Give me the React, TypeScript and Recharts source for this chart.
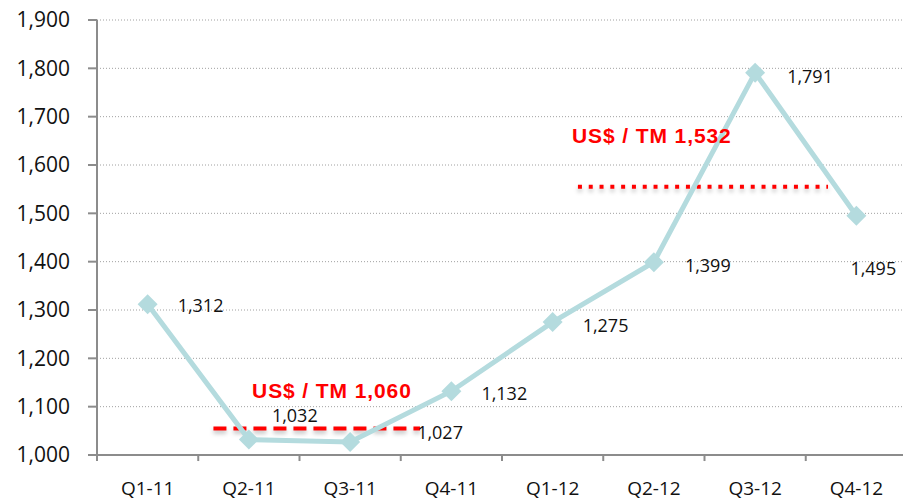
import React from 'react';
import {
  LineChart,
  Line,
  XAxis,
  YAxis,
  CartesianGrid,
  ReferenceLine,
  ReferenceDot,
  LabelList,
} from 'recharts';

const categories = ['Q1-11', 'Q2-11', 'Q3-11', 'Q4-11', 'Q1-12', 'Q2-12', 'Q3-12', 'Q4-12'];
const prices = [1312, 1032, 1027, 1132, 1275, 1399, 1791, 1495];
const yTicks = [1000, 1100, 1200, 1300, 1400, 1500, 1600, 1700, 1800, 1900];
const boundaryTicks = [0, 1, 2, 3, 4, 5, 6, 7, 8];
const avgLabels = ['US$ / TM 1,060', 'US$ / TM 1,532'];
const avgLineLevels = [1055, 1555];

// each category sits in the middle of its slot on a numeric axis
const data = categories.map((q, i) => ({ pos: i + 0.5, q, price: prices[i] }));
const catTicks = data.map((d) => d.pos);

const FONT = '"Open Sans", sans-serif';
const LINE = '#B4DBDE';
const AXIS = '#8C8C8C';

// label offsets (dx, dy) relative to each point
const labelOffsets: [number, number][] = [
  [30, 1],
  [23, -25],
  [67, -10],
  [30, 2],
  [30, 3],
  [31, 3],
  [32, 3],
  [-6, 52],
];

const fmt = (v: number) => v.toLocaleString('en-US');

function Diamond(props: any) {
  const { cx, cy } = props;
  if (cx == null || cy == null) return null;
  const r = 10;
  return (
    <polygon
      points={`${cx},${cy - r} ${cx + r},${cy} ${cx},${cy + r} ${cx - r},${cy}`}
      fill={LINE}
    />
  );
}

function DataLabel(props: any) {
  const { x, y, value, index } = props;
  const [dx, dy] = labelOffsets[index] || [30, 2];
  return (
    <text
      x={x + dx}
      y={y + dy}
      textAnchor="start"
      dominantBaseline="central"
      fontFamily={FONT}
      fontSize={18}
      fill="#111"
    >
      {fmt(value)}
    </text>
  );
}

function redText(text: string) {
  return (p: any) => (
    <text
      x={p.cx}
      y={p.cy}
      textAnchor="middle"
      dominantBaseline="central"
      fontFamily='"Liberation Sans", Arial, sans-serif'
      fontWeight="bold"
      fontSize={21}
      letterSpacing={0.9}
      fill="#FF0000"
    >
      {text}
    </text>
  );
}

export default function App() {
  return (
    <div style={{ position: 'absolute', left: 0, top: 0, width: 903, height: 502, overflow: 'hidden', background: '#fff' }}>
      <LineChart
        width={910}
        height={502}
        data={data}
        margin={{ top: 20, right: 3, left: 0, bottom: 0 }}
      >
        <CartesianGrid vertical={false} stroke="#A0A0A0" strokeDasharray="1 2" />
        <XAxis
          dataKey="pos"
          type="number"
          domain={[0, 8]}
          ticks={catTicks}
          tickFormatter={(v: number) => categories[Math.floor(v)] ?? ''}
          allowDataOverflow
          height={47}
          tickLine={false}
          axisLine={{ stroke: AXIS, strokeWidth: 2 }}
          tickSize={0}
          tickMargin={27}
          tick={{ fontFamily: FONT, fontSize: 19, fill: '#111' }}
          interval={0}
        />
        <YAxis
          width={97}
          domain={[1000, 1900]}
          ticks={yTicks}
          tickFormatter={fmt}
          axisLine={{ stroke: AXIS, strokeWidth: 2 }}
          tickLine={{ stroke: AXIS, strokeWidth: 2 }}
          tickSize={9}
          tickMargin={18}
          tick={{ fontFamily: FONT, fontSize: 21, fill: '#111' }}
          allowDataOverflow
        />
        {boundaryTicks.map((t) => (
          <ReferenceLine
            key={t}
            segment={[{ x: t, y: 1000 }, { x: t, y: 987.5 }]}
            stroke={AXIS}
            strokeWidth={2}
            ifOverflow="visible"
          />
        ))}
        <ReferenceLine
          segment={[{ x: 1.15, y: avgLineLevels[0] }, { x: 3.19, y: avgLineLevels[0] }]}
          stroke="#FF0000"
          strokeWidth={4}
          strokeDasharray="13 7"
          ifOverflow="visible"
          style={{ filter: 'drop-shadow(0px 3px 2px rgba(0,0,0,0.25))' }}
        />
        <ReferenceLine
          segment={[{ x: 4.75, y: avgLineLevels[1] }, { x: 7.22, y: avgLineLevels[1] }]}
          stroke="#FF0000"
          strokeWidth={4}
          strokeDasharray="4 6.8"
          ifOverflow="visible"
          style={{ filter: 'drop-shadow(0px 3px 2px rgba(0,0,0,0.25))' }}
        />
        <Line
          type="linear"
          dataKey="price"
          stroke={LINE}
          strokeWidth={5}
          dot={<Diamond />}
          activeDot={false}
          isAnimationActive={false}
        >
          <LabelList dataKey="price" content={<DataLabel />} />
        </Line>
        <ReferenceDot x={2.32} y={1133} r={0} shape={redText(avgLabels[0])} ifOverflow="visible" />
        <ReferenceDot x={5.48} y={1662} r={0} shape={redText(avgLabels[1])} ifOverflow="visible" />
      </LineChart>
    </div>
  );
}
